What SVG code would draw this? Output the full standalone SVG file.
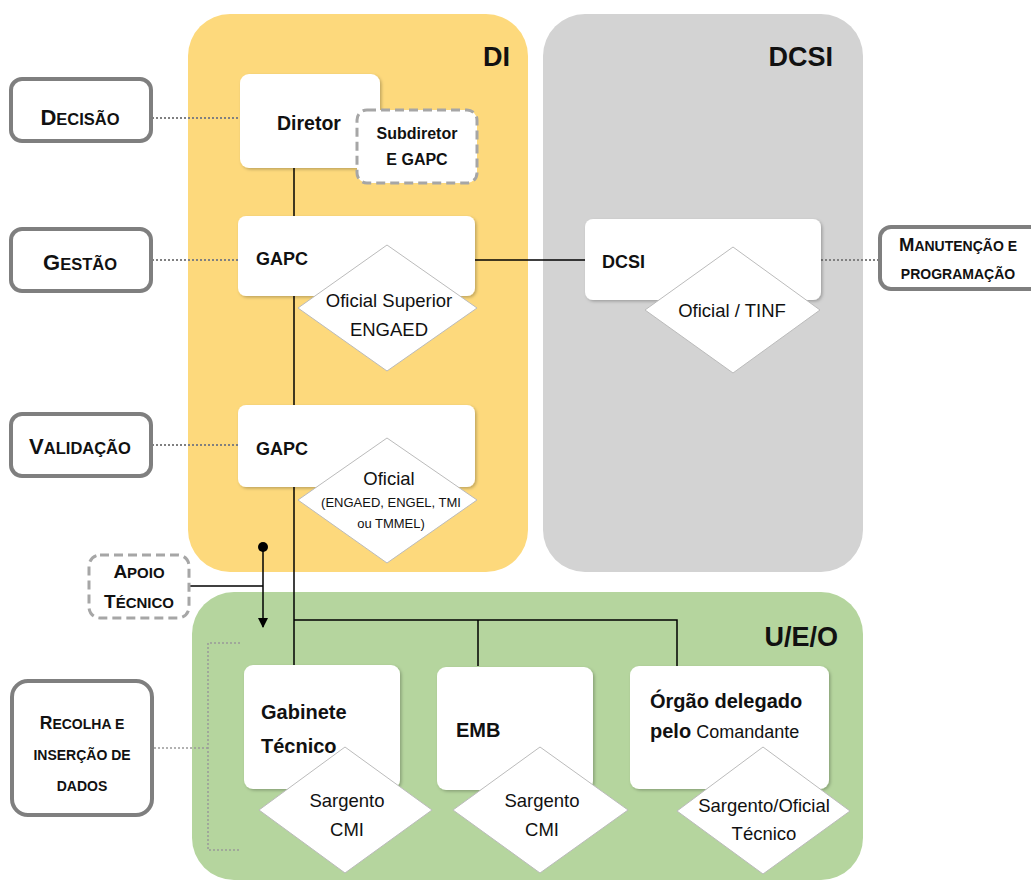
<svg xmlns="http://www.w3.org/2000/svg" width="1031" height="880" viewBox="0 0 1031 880">
<defs>
<filter id="sh" x="-10%" y="-10%" width="130%" height="130%"><feDropShadow dx="1.5" dy="1.5" stdDeviation="1.5" flood-color="#000" flood-opacity="0.25"/></filter>
<marker id="arr" viewBox="0 0 10 10" refX="9" refY="5" markerWidth="10" markerHeight="10" markerUnits="userSpaceOnUse" orient="auto"><path d="M0,0 L10,5 L0,10 z" fill="#000"/></marker>
<style>
text{font-family:"Liberation Sans",Arial,sans-serif;fill:#111}
.b{font-weight:bold}
.ttl{font-weight:bold;font-size:27px;text-anchor:end}
.box{fill:#fff;filter:url(#sh)}
.dia{fill:#fff;stroke:#bbb;stroke-width:1}
.lbl{fill:#fff;stroke:#7f7f7f;stroke-width:4}
.dash{fill:#fff;stroke:#a6a6a6;stroke-width:3;stroke-dasharray:9 5}
.ln{stroke:#000;stroke-width:1.5;fill:none}
.dot{stroke:#808080;stroke-width:2;stroke-dasharray:2 2;fill:none}
.dot2{stroke:#999;stroke-width:1.5;stroke-dasharray:2 2;fill:none}
.dt{font-size:18.5px;text-anchor:middle}
.nm{font-size:18px;font-weight:bold}
.nm2{font-size:20px;font-weight:bold}
.c{text-anchor:middle}
</style>
</defs>
<g id="panels">
<rect x="188" y="14" width="340" height="558" rx="42" fill="#FDD97C"/>
<rect x="543" y="14" width="320" height="558" rx="42" fill="#D3D3D3"/>
<rect x="192" y="592" width="671" height="288" rx="42" fill="#B5D59E"/>
<text class="ttl" x="510" y="66">DI</text>
<text class="ttl" x="833" y="66">DCSI</text>
<text class="ttl" x="838" y="646" font-size="29">U/E/O</text>
</g>
<g id="connectors">
<path class="ln" d="M294,168 V665"/>
<path class="ln" d="M475,260 H585"/>
<path class="ln" d="M294,620 H677 V666 M478,620 V666"/>
<path class="ln" d="M188,586 H263"/>
<path class="ln" d="M263,547 V627" marker-end="url(#arr)"/>
<circle cx="263" cy="547" r="5" fill="#000"/>
<path class="dot" d="M152,118 H240"/>
<path class="dot" d="M152,260 H238"/>
<path class="dot" d="M152,445 H238"/>
<path class="dot" d="M821,260 H878"/>
<path class="dot2" d="M154,748 H208 M240,643 H208 V850 H240"/>
</g>
<g id="lbl-decisao">
<rect class="lbl" x="11" y="79" width="140" height="62" rx="11"/>
<text class="b c" x="80" y="125"><tspan font-size="22">D</tspan><tspan font-size="16.5">ECISÃO</tspan></text>
</g>
<g id="lbl-gestao">
<rect class="lbl" x="11" y="229" width="140" height="62" rx="11"/>
<text class="b c" x="80" y="270"><tspan font-size="22">G</tspan><tspan font-size="16.5">ESTÃO</tspan></text>
</g>
<g id="lbl-validacao">
<rect class="lbl" x="11" y="414" width="140" height="62" rx="11"/>
<text class="b c" x="80" y="454"><tspan font-size="22">V</tspan><tspan font-size="16.5">ALIDAÇÃO</tspan></text>
</g>
<g id="lbl-manutencao">
<rect class="lbl" x="880" y="227" width="170" height="62" rx="11"/>
<text class="b c" x="958" y="251"><tspan font-size="18.5">M</tspan><tspan font-size="14">ANUTENÇÃO E</tspan></text>
<text class="b c" x="958" y="279" font-size="14">PROGRAMAÇÃO</text>
</g>
<g id="lbl-apoio">
<rect class="dash" x="89" y="555" width="100" height="63" rx="11"/>
<text class="b c" x="139" y="578"><tspan font-size="19">A</tspan><tspan font-size="15">POIO</tspan></text>
<text class="b c" x="139" y="608"><tspan font-size="19">T</tspan><tspan font-size="15">ÉCNICO</tspan></text>
</g>
<g id="lbl-recolha">
<rect class="lbl" x="12" y="681" width="140" height="134" rx="16"/>
<text class="b c" x="82" y="729"><tspan font-size="17.5">R</tspan><tspan font-size="14">ECOLHA E</tspan></text>
<text class="b c" x="82" y="760" font-size="14">INSERÇÃO DE</text>
<text class="b c" x="82" y="791" font-size="14">DADOS</text>
</g>
<g id="diretor">
<rect class="box" x="240" y="74" width="140" height="94" rx="9"/>
<text class="b c" x="309" y="130" font-size="19.5">Diretor</text>
</g>
<g id="subdiretor">
<rect class="dash" x="357" y="110" width="120" height="73" rx="10"/>
<text class="b c" x="417" y="139" font-size="16">Subdiretor</text>
<text class="b c" x="417" y="165" font-size="16">E GAPC</text>
</g>
<g id="gapc1">
<rect class="box" x="238" y="216" width="237" height="80" rx="8"/>
<text class="nm" x="256" y="265">GAPC</text>
<polygon class="dia" points="387,245 477,308 387,371 298,308"/>
<text class="dt" x="389" y="307">Oficial Superior</text>
<text class="dt" x="389" y="336">ENGAED</text>
</g>
<g id="gapc2">
<rect class="box" x="238" y="405" width="237" height="82" rx="8"/>
<text class="nm" x="256" y="455">GAPC</text>
<polygon class="dia" points="387,438 477,500 387,563 298,500"/>
<text class="dt" x="389" y="485">Oficial</text>
<text class="c" x="391" y="507" font-size="13">(ENGAED, ENGEL, TMI</text>
<text class="c" x="391" y="528" font-size="13">ou TMMEL)</text>
</g>
<g id="dcsi">
<rect class="box" x="585" y="219" width="236" height="81" rx="8"/>
<text class="nm" x="602" y="268">DCSI</text>
<polygon class="dia" points="733,247 820,310 733,373 645,310"/>
<text class="dt" x="732" y="317">Oficial / TINF</text>
</g>
<g id="gabinete">
<rect class="box" x="244" y="665" width="156" height="124" rx="9"/>
<text class="nm2" x="261" y="719">Gabinete</text>
<text class="nm2" x="261" y="753">Técnico</text>
<polygon class="dia" points="345,747 432,810 345,873 259,810"/>
<text class="dt" x="347" y="807">Sargento</text>
<text class="dt" x="347" y="836">CMI</text>
</g>
<g id="emb">
<rect class="box" x="437" y="667" width="156" height="123" rx="9"/>
<text class="nm2" x="456" y="737">EMB</text>
<polygon class="dia" points="540,747 628,810 540,873 453,810"/>
<text class="dt" x="542" y="807">Sargento</text>
<text class="dt" x="542" y="836">CMI</text>
</g>
<g id="orgao">
<rect class="box" x="630" y="666" width="199" height="123" rx="9"/>
<text class="nm2" x="650" y="708">Órgão delegado</text>
<text x="650" y="738" font-size="18"><tspan class="b" font-size="20">pelo</tspan> Comandante</text>
<polygon class="dia" points="763,747 850,811 763,874 677,811"/>
<text class="dt" x="764" y="812">Sargento/Oficial</text>
<text class="dt" x="764" y="840">Técnico</text>
</g>
</svg>
